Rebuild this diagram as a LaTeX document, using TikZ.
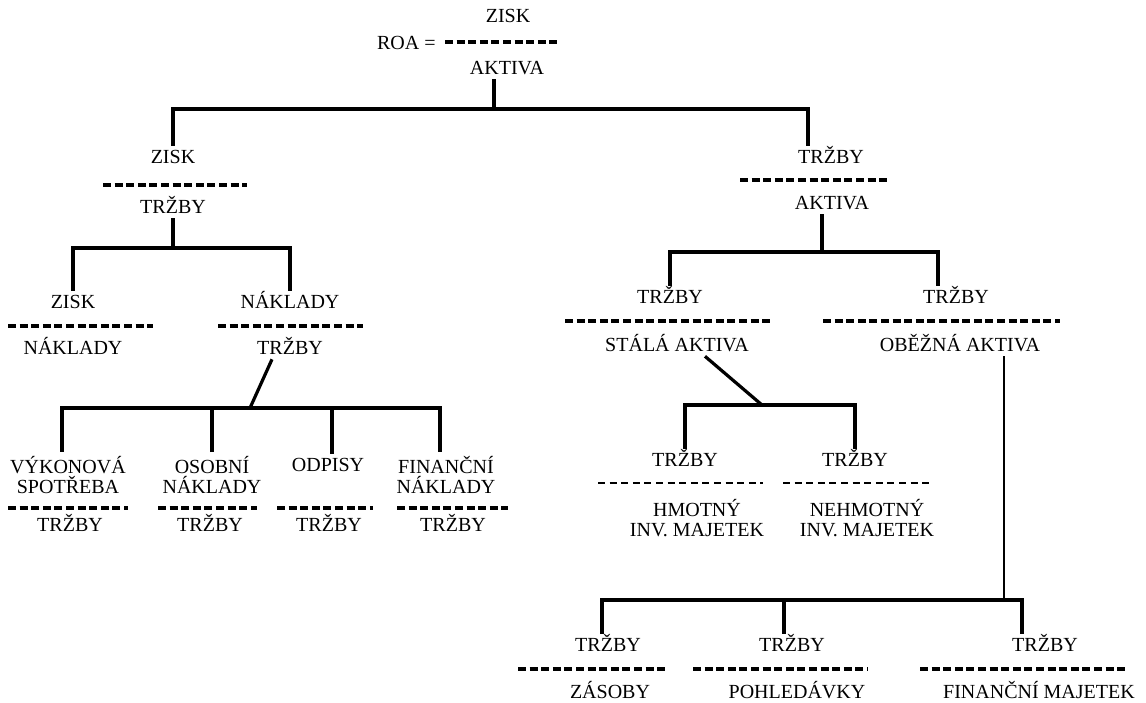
\documentclass[tikz,border=0pt]{standalone}
\usepackage{fontspec}
\setmainfont{Liberation Serif}

\begin{document}
\begin{tikzpicture}[
  x=0.5pt, y=-0.5pt,
  lbl/.style={font=\fontsize{10}{10}\selectfont, inner sep=2pt, text height=6.9pt, text depth=0pt},
  lbl2/.style={font=\fontsize{10}{10}\selectfont, inner sep=2pt, align=center},
  link/.style={line width=1.6pt},
  bar/.style={line width=1.6pt, dash pattern=on 4pt off 1.8pt},
  thinbar/.style={line width=1pt, dash pattern=on 3.5pt off 2.3pt},
]
\fill[white] (0,0) rectangle (1146,702);
\useasboundingbox (0,0) rectangle (1146,702);

% ROA
\node[lbl] (roaN) at (508,16) {ZISK};
\node[lbl] (roaD) at (507,68) {AKTIVA};
\node[lbl, anchor=east] (roa) at (440,43) {ROA =};
\draw[bar] (445,42) -- (558,42);

% first level
\node[lbl] (ztN) at (173,157) {ZISK};
\draw[bar] (103,185) -- (247,185);
\node[lbl] (ztD) at (173,207) {TRŽBY};
\node[lbl] (taN) at (831,157) {TRŽBY};
\draw[bar] (740,180) -- (887,180);
\node[lbl] (taD) at (832,203) {AKTIVA};

% second level
\node[lbl] (znN) at (73,302) {ZISK};
\draw[bar] (8,326) -- (153,326);
\node[lbl] (znD) at (73,348) {NÁKLADY};
\node[lbl] (ntN) at (290,302) {NÁKLADY};
\draw[bar] (218,326) -- (363,326);
\node[lbl] (ntD) at (290,348) {TRŽBY};
\node[lbl] (tsaN) at (670,297) {TRŽBY};
\draw[bar] (565,321) -- (773,321);
\node[lbl] (tsaD) at (677,345) {STÁLÁ AKTIVA};
\node[lbl] (toaN) at (956,297) {TRŽBY};
\draw[bar] (823,321) -- (1060,321);
\node[lbl] (toaD) at (960,345) {OBĚŽNÁ AKTIVA};

% costs
\node[lbl2] (vsN) at (68,475) {VÝKONOVÁ\\SPOTŘEBA};
\draw[bar] (8,508) -- (128,508);
\node[lbl] (vsD) at (70,525) {TRŽBY};
\node[lbl2] (onN) at (212,475) {OSOBNÍ\\NÁKLADY};
\draw[bar] (158,508) -- (257,508);
\node[lbl] (onD) at (210,525) {TRŽBY};
\node[lbl] (odN) at (328,465) {ODPISY};
\draw[bar] (277,508) -- (373,508);
\node[lbl] (odD) at (329,525) {TRŽBY};
\node[lbl2] (fnN) at (446,475) {FINANČNÍ\\NÁKLADY};
\draw[bar] (397,508) -- (508,508);
\node[lbl] (fnD) at (453,525) {TRŽBY};

% fixed assets
\node[lbl] (hmN) at (685,460) {TRŽBY};
\draw[thinbar] (598,483) -- (763,483);
\node[lbl2] (hmD) at (697,518) {HMOTNÝ\\INV. MAJETEK};
\node[lbl] (nhN) at (855,460) {TRŽBY};
\draw[thinbar] (783,483) -- (933,483);
\node[lbl2] (nhD) at (867,518) {NEHMOTNÝ\\INV. MAJETEK};

% current assets
\node[lbl] (zsN) at (608,645) {TRŽBY};
\draw[bar] (518,669) -- (667,669);
\node[lbl] (zsD) at (610,692) {ZÁSOBY};
\node[lbl] (phN) at (792,645) {TRŽBY};
\draw[bar] (693,669) -- (868,669);
\node[lbl] (phD) at (797,692) {POHLEDÁVKY};
\node[lbl] (fmN) at (1045,645) {TRŽBY};
\draw[bar] (920,669) -- (1128,669);
\node[lbl] (fmD) at (1039,692) {FINANČNÍ MAJETEK};

% tree lines
\coordinate (j1) at (494,109);
\draw[link] ([xshift=-6.5pt]roaD.south) -- (j1);
\draw[link] (ztN.north) |- (j1) -| ([xshift=-11.5pt]taN.north);

\coordinate (j2) at (173,248);
\draw[link] (ztD.south) -- (j2);
\draw[link] (znN.north) |- (j2) -| (ntN.north);

\coordinate (j3) at (822,252);
\draw[link] ([xshift=-5pt]taD.south) -- (j3);
\draw[link] (tsaN.north) |- (j3) -| ([xshift=-9pt]toaN.north);

\coordinate (j4) at (250,408);
\draw[link] ([xshift=-9pt]ntD.south) -- (j4);
\draw[link] ([xshift=-3pt]vsN.north) |- (j4) -| ([xshift=-3pt]fnN.north);
\draw[link] (onN.north) -- (onN.north |- j4);
\draw[link] ([xshift=2pt]odN.north) -- ([xshift=2pt]odN.north |- j4);

\coordinate (j5) at (762,405);
\draw[link] ([xshift=14pt]tsaD.south) -- (j5);
\draw[link] (hmN.north) |- (j5) -| (nhN.north);

\coordinate (j6) at (1004,600);
\draw[link, line width=1.2pt] ([xshift=22pt]toaD.south) -- (j6);
\draw[link] ([xshift=-3pt]zsN.north) |- (j6) -| ([xshift=-11.5pt]fmN.north);
\draw[link] ([xshift=-4pt]phN.north) -- ([xshift=-4pt]phN.north |- j6);
\end{tikzpicture}
\end{document}
